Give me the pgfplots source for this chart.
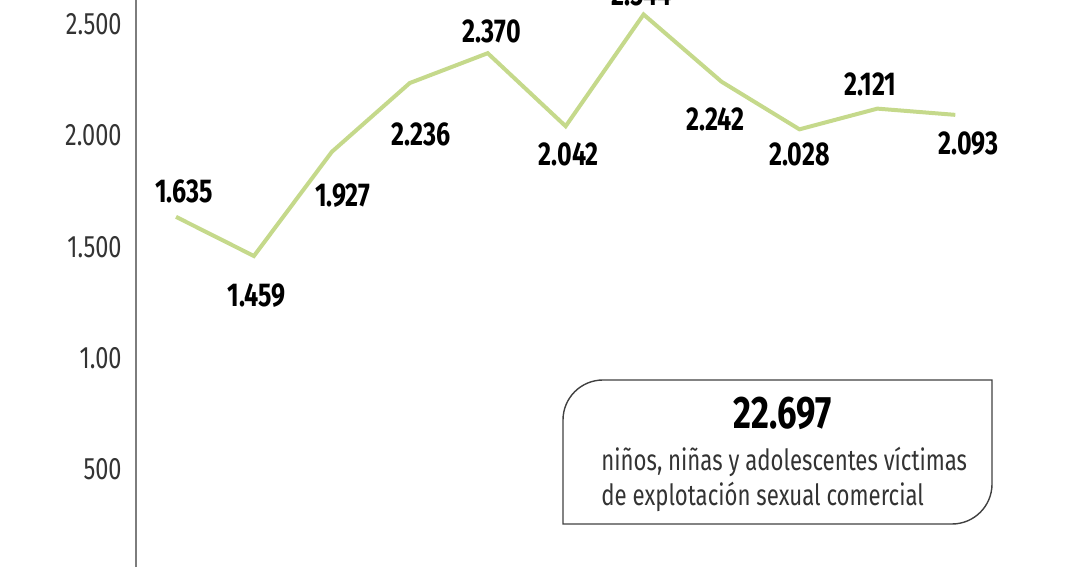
\documentclass[border=0pt]{standalone}
\usepackage{pgfplots}
\pgfplotsset{compat=1.18}
\usepackage{pgfplotstable}
\usepackage{fontspec}
\setmainfont{Fira Sans}[FakeStretch=0.76]
\newfontfamily\tickfont{Fira Sans}[FakeStretch=0.76]
\definecolor{linegreen}{RGB}{197,217,139}
\definecolor{axgray}{RGB}{125,125,125}
\pgfplotstableread{
x  y     dx   dy
0  1635  4    12.5
1  1459  1.5  -20
2  1927  5.5  -22
3  2236  5.5  -25.5
4  2370  2    11
5  2042  1.5  -14
6  2544  -1   10
7  2242  -3   -19
8  2028  0    -12.5
9  2121  -3.5 12
10 2093  6.5  -14.5
}\datatable
\begin{document}
\begin{tikzpicture}
\useasboundingbox (0,0) rectangle (540pt,283.5pt);
\clip (0,0) rectangle (540pt,283.5pt);
\begin{axis}[
  at={(68pt,0pt)}, anchor=south west,
  scale only axis, width=472pt, height=283.5pt,
  xmin=-0.513, xmax=11.6, ymin=62, ymax=2609,
  clip=false,
  hide x axis,
  axis y line*=left,
  y axis line style={axgray, line width=1pt},
  ytick={500,1000,1500,2000,2500},
  yticklabels={500,1.00,1.500,2.000,2.500},
  major tick length=0pt,
  yticklabel style={font=\tickfont\fontsize{15.5}{18}\selectfont, text=black!80, inner sep=0pt, xshift=-7pt},
  /pgf/number format/assume math mode=true,
]
\addplot[linegreen, line width=2pt, mark=none,
  point meta=y,
  nodes near coords={\pgfmathprintnumber[fixed, precision=0, 1000 sep={.}, assume math mode=true]{\pgfplotspointmeta}},
  visualization depends on={\thisrow{dx} \as \ddx},
  visualization depends on={\thisrow{dy} \as \ddy},
  every node near coord/.append style={anchor=center, font=\bfseries\fontsize{16.5}{18}\selectfont, text=black, xshift=\ddx pt, yshift=\ddy pt},
] table[x=x, y=y] {\datatable};
\end{axis}
\draw[line width=0.7pt, black!75] (281.5pt,21.5pt) -- (281.5pt,73.5pt) arc[start angle=180,end angle=90,radius=20pt] -- (496pt,93.5pt) -- (496pt,41.5pt) arc[start angle=0,end angle=-90,radius=20pt] -- cycle;
\node[font=\bfseries\fontsize{22.8}{24}\selectfont, inner sep=0pt] at (391.5pt,77pt) {22.697};
\node[font=\fontsize{14.6}{16}\selectfont, anchor=west, inner sep=0pt, text=black!80] at (300.5pt,52.5pt) {niños, niñas y adolescentes víctimas};
\node[font=\fontsize{14.6}{16}\selectfont, anchor=west, inner sep=0pt, text=black!80] at (300.5pt,35pt) {de explotación sexual comercial};
\end{tikzpicture}
\end{document}
